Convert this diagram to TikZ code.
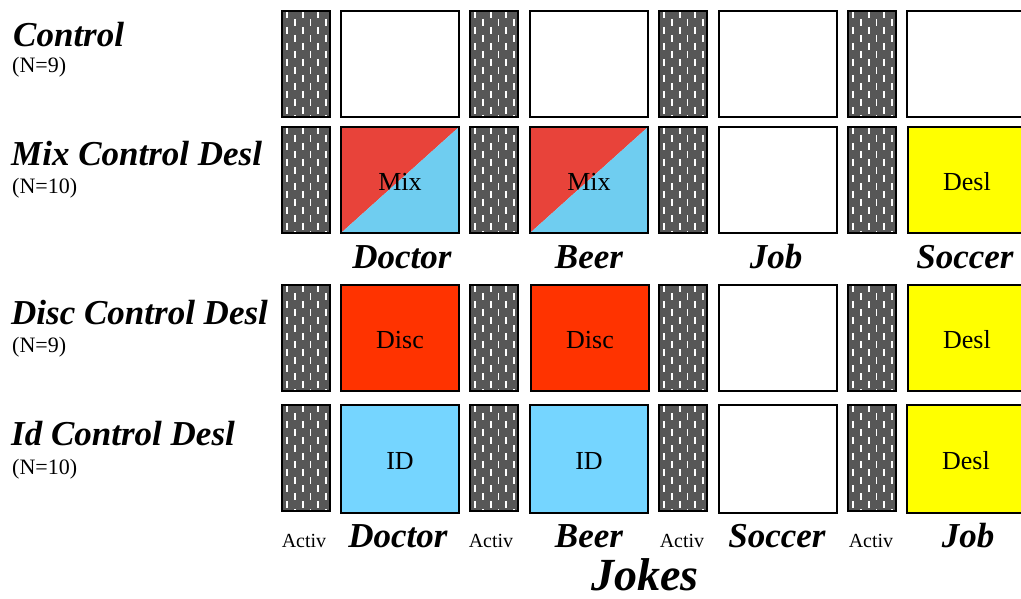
\documentclass[tikz,border=0pt]{standalone}
\usepackage{fontspec}
\setmainfont{Liberation Serif}
\definecolor{actgray}{HTML}{575757}
\definecolor{mixred}{HTML}{E8433A}
\definecolor{mixblue}{HTML}{6FCDF0}
\definecolor{discred}{HTML}{FF3300}
\definecolor{idblue}{HTML}{75D5FF}
\definecolor{deslyellow}{HTML}{FFFF00}
\begin{document}
\begin{tikzpicture}[x=1pt,y=-1pt,
  box/.style={draw=black, line width=2pt, inner sep=0pt, anchor=north west,
    font=\fontsize{26}{30}\selectfont, text height=20pt, text depth=0pt},
  bigbox/.style={box, minimum width=118pt, minimum height=106pt},
  activbox/.style={box, minimum width=48pt, minimum height=106pt, fill=actgray,
    path picture={
      \foreach \k in {0,...,5}{
        \pgfmathsetmacro{\ph}{mod(\k,2)*8}
        \draw[white, line width=1.8pt, dash pattern=on 7pt off 9pt, dash phase=\ph pt]
          ([xshift={5pt+\k*7.8pt}]path picture bounding box.north west) --
          ([xshift={5pt+\k*7.8pt}]path picture bounding box.south west);
      }
    }},
  mixbox/.style={bigbox,
    path picture={
      \fill[mixred] (path picture bounding box.north west) -- (path picture bounding box.north east)
        -- (path picture bounding box.south west) -- cycle;
      \fill[mixblue] (path picture bounding box.north east) -- (path picture bounding box.south east)
        -- (path picture bounding box.south west) -- cycle;
    }},
  rowtitle/.style={anchor=base west, inner sep=0pt, font=\fontsize{35}{40}\selectfont\bfseries\itshape},
  rowcount/.style={anchor=base west, inner sep=0pt, font=\fontsize{22}{26}\selectfont},
  coltitle/.style={anchor=base, inner sep=0pt, font=\fontsize{35}{40}\selectfont\bfseries\itshape},
  activlabel/.style={anchor=base, inner sep=0pt, font=\fontsize{20}{24}\selectfont},
  axistitle/.style={anchor=base, inner sep=0pt, font=\fontsize{46}{52}\selectfont\bfseries\itshape}
]
\useasboundingbox (0,0) rectangle (1021,599);
\clip (0,0) rectangle (1021,599);

% activity blocks in every row
\foreach \r/\y in {1/10,2/126,3/284,4/404}
  \foreach \c/\x in {1/281,2/469,3/658,4/847}
    \node[activbox] (act\r\c) at (\x,\y) {};

% row 1: Control
\node[bigbox] (b11) at (340,10) {};
\node[bigbox] (b12) at (529,10) {};
\node[bigbox] (b13) at (718,10) {};
\node[bigbox] (b14) at (906,10) {};

% row 2: Mix Control Desl
\node[mixbox] (b21) at (340,126) {Mix};
\node[mixbox] (b22) at (529,126) {Mix};
\node[bigbox] (b23) at (718,126) {};
\node[bigbox, fill=deslyellow] (b24) at (907,126) {Desl};

% row 3: Disc Control Desl
\node[bigbox, fill=discred] (b31) at (340,284) {Disc};
\node[bigbox, fill=discred] (b32) at (530,284) {Disc};
\node[bigbox] (b33) at (718,284) {};
\node[bigbox, fill=deslyellow] (b34) at (907,284) {Desl};

% row 4: Id Control Desl
\node[bigbox, fill=idblue, minimum height=108pt] (b41) at (340,404) {ID};
\node[bigbox, fill=idblue, minimum height=108pt] (b42) at (529,404) {ID};
\node[bigbox, minimum height=108pt] (b43) at (718,404) {};
\node[bigbox, fill=deslyellow, minimum height=108pt] (b44) at (906,404) {Desl};

% group names
\node[rowtitle] (t1) at (13,47) {Control};
\node[rowcount] (n1) at (12,73) {(N=9)};
\node[rowtitle] (t2) at (11,166) {Mix Control Desl};
\node[rowcount] (n2) at (12,194) {(N=10)};
\node[rowtitle] (t3) at (11,324) {Disc Control Desl};
\node[rowcount] (n3) at (12,352) {(N=9)};
\node[rowtitle] (t4) at (11,445) {Id Control Desl};
\node[rowcount] (n4) at (12,474) {(N=10)};

% joke order for the first two groups
\node[coltitle] (j21) at (402,268) {Doctor};
\node[coltitle] (j22) at (589,268) {Beer};
\node[coltitle] (j23) at (776,268) {Job};
\node[coltitle] (j24) at (965,268) {Soccer};

% joke order for the last two groups
\node[activlabel] (a1) at (304,547) {Activ};
\node[activlabel] (a2) at (491,547) {Activ};
\node[activlabel] (a3) at (682,547) {Activ};
\node[activlabel] (a4) at (871,547) {Activ};
\node[coltitle] (j41) at (398,547) {Doctor};
\node[coltitle] (j42) at (589,547) {Beer};
\node[coltitle] (j43) at (777,547) {Soccer};
\node[coltitle] (j44) at (968,547) {Job};

\node[axistitle] (jokes) at (645,590) {Jokes};
\end{tikzpicture}
\end{document}
